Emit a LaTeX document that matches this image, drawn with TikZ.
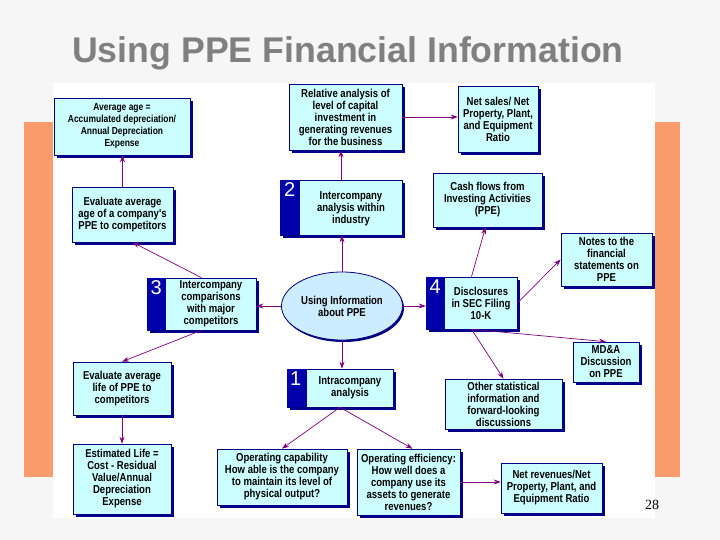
\documentclass[tikz,border=0pt]{standalone}
\usepackage{fontspec}
\setmainfont{Liberation Sans}
\newfontfamily\boxfont[FakeStretch=0.83]{Liberation Sans}
\newfontfamily\numfont{Liberation Serif}
\usetikzlibrary{shapes.geometric,arrows.meta,shadows}
\definecolor{bgray}{RGB}{246,246,246}
\definecolor{salmon}{RGB}{250,155,108}
\definecolor{boxfill}{RGB}{204,255,255}
\definecolor{boxline}{RGB}{0,0,128}
\definecolor{boxshadow}{RGB}{0,0,140}
\definecolor{stripcol}{RGB}{0,0,170}
\definecolor{ellfill}{RGB}{204,236,255}
\definecolor{conncol}{RGB}{128,0,128}
\definecolor{titlegray}{RGB}{128,128,128}
\begin{document}
\begin{tikzpicture}[x=1pt,y=-1pt,
  boxtext/.style={align=center, inner sep=0pt, font=\boxfont\bfseries\fontsize{11.5}{12}\selectfont},
  cbox/.style={rectangle, draw=boxline, line width=0.6pt, fill=boxfill, boxtext,
    drop shadow={shadow xshift=3pt,shadow yshift=-3pt,fill=boxshadow,opacity=1}},
  numlabel/.style={text=white, inner sep=0pt, font=\fontsize{20}{20}\selectfont},
  conn/.style={draw=conncol, line width=0.7pt, -{Stealth[length=7pt,width=5pt]}}
]
\useasboundingbox (0,0) rectangle (720,540);
\fill[bgray] (0,0) rectangle (720,540);
\fill[salmon] (24,122) rectangle (54,477);
\fill[salmon] (654,122) rectangle (680,477);
\fill[white] (53,83) rectangle (655,518);

\node[anchor=base west, inner sep=0pt, text=titlegray, font=\bfseries\fontsize{35.7}{40}\selectfont] (title) at (72,63) {Using PPE Financial Information};

% plain boxes
\node[cbox, minimum width=136pt, minimum height=57pt, font=\boxfont\bfseries\fontsize{10.2}{12}\selectfont] (avgage) at (122,126.5) {Average age =\\Accumulated depreciation/\\Annual Depreciation\\Expense};
\node[cbox, minimum width=101pt, minimum height=55pt] (evalage) at (122.5,214.5) {Evaluate average\\age of a company's\\PPE to competitors};
\node[cbox, minimum width=113pt, minimum height=66pt] (rel) at (345.5,117) {Relative analysis of\\level of capital\\investment in\\generating revenues\\for the business};
\node[cbox, minimum width=80pt, minimum height=66pt] (netsales) at (498,119) {Net sales/ Net\\Property, Plant,\\and Equipment\\Ratio};
\node[cbox, minimum width=109pt, minimum height=54pt] (cash) at (487.5,200) {Cash flows from\\Investing Activities\\(PPE)};
\node[cbox, minimum width=91pt, minimum height=53pt] (notes) at (606.5,259.5) {Notes to the\\financial\\statements on\\PPE};
\node[cbox, minimum width=66pt, minimum height=40pt] (mda) at (606,362) {MD\&A\\Discussion\\on PPE};
\node[cbox, minimum width=117pt, minimum height=50pt] (other) at (503.5,404) {Other statistical\\information and\\forward-looking\\discussions};
\node[cbox, minimum width=98pt, minimum height=53pt] (evallife) at (122,388.5) {Evaluate average\\life of PPE to\\competitors};
\node[cbox, minimum width=98pt, minimum height=70pt] (estlife) at (122,479) {Estimated Life =\\Cost - Residual\\Value/Annual\\Depreciation\\Expense};
\node[cbox, minimum width=130pt, minimum height=56pt] (opcap) at (282,477) {Operating capability\\How able is the company\\to maintain its level of\\physical output?};
\node[cbox, minimum width=103pt, minimum height=66pt] (opeff) at (408.5,482) {Operating efficiency:\\How well does a\\company use its\\assets to generate\\revenues?};
\node[cbox, minimum width=101pt, minimum height=50pt] (netrev) at (551.5,488) {Net revenues/Net\\Property, Plant, and\\Equipment Ratio};

% numbered boxes
\node[cbox, minimum width=122pt, minimum height=55pt] (b2) at (341,207.5) {};
\fill[stripcol] (b2.north west) rectangle ([xshift=20pt]b2.south west);
\node[numlabel] (n2) at ([xshift=10pt,yshift=-10pt]b2.north west) {2};
\node[boxtext] (b2t) at ([xshift=10pt,yshift=-1pt]b2.center) {Intercompany\\analysis within\\industry};

\node[cbox, minimum width=109pt, minimum height=52pt] (b3) at (201.5,304) {};
\fill[stripcol] (b3.north west) rectangle ([xshift=19pt]b3.south west);
\node[numlabel] (n3) at ([xshift=9.5pt,yshift=-10pt]b3.north west) {3};
\node[boxtext] (b3t) at ([xshift=9.5pt]b3.center) {Intercompany\\comparisons\\with major\\competitors};

\node[cbox, minimum width=91pt, minimum height=52pt] (b4) at (471.5,303) {};
\fill[stripcol] (b4.north west) rectangle ([xshift=19pt]b4.south west);
\node[numlabel] (n4) at ([xshift=9.5pt,yshift=-10pt]b4.north west) {4};
\node[boxtext] (b4t) at ([xshift=9.5pt]b4.center) {Disclosures\\in SEC Filing\\10-K};

\node[cbox, minimum width=106pt, minimum height=38pt] (b1) at (340,388) {};
\fill[stripcol] (b1.north west) rectangle ([xshift=20pt]b1.south west);
\node[numlabel] (n1) at ([xshift=9pt,yshift=-10pt]b1.north west) {1};
\node[boxtext] (b1t) at ([xshift=10pt]b1.center) {Intracompany\\analysis};

% centre ellipse
\node[ellipse, draw=boxline, line width=0.8pt, fill=ellfill, minimum width=121pt, minimum height=68pt, boxtext,
  drop shadow={shadow xshift=1.5pt,shadow yshift=-2pt,fill=boxline,opacity=1}] (ell) at (342,306) {Using Information\\about PPE};

% connectors
\draw[conn] (evalage.north) -- (evalage.north |- avgage.south);
\draw[conn] (b2.north) -- (b2.north |- rel.south);
\draw[conn] (ell.north) -- (ell.north |- b2.south);
\draw[conn] (rel.east) -- (rel.east -| netsales.west);
\draw[conn] (ell.east) -- (ell.east -| b4.west);
\draw[conn] (b4.north) -- ([xshift=-2pt]cash.south);
\draw[conn] (b4.east) -- (notes.west);
\draw[conn] (b4.south) -- (mda.north);
\draw[conn] (b4.south) -- (other.north);
\draw[conn] (ell.west) -- (ell.west -| b3.east);
\draw[conn] (b3.north) -- ([xshift=10pt]evalage.south);
\draw[conn] (b3.south) -- (evallife.north);
\draw[conn] (evallife.south) -- (evallife.south |- estlife.north);
\draw[conn] (ell.south) -- (ell.south |- b1.north);
\draw[conn] (b1.south) -- (opcap.north);
\draw[conn] (b1.south) -- ([xshift=4pt]opeff.north);
\draw[conn] (opeff.east) -- (opeff.east -| netrev.west);

\node[anchor=base, inner sep=0pt, font=\numfont\fontsize{14}{14}\selectfont] (pagenum) at (652,509) {28};
\end{tikzpicture}
\end{document}
